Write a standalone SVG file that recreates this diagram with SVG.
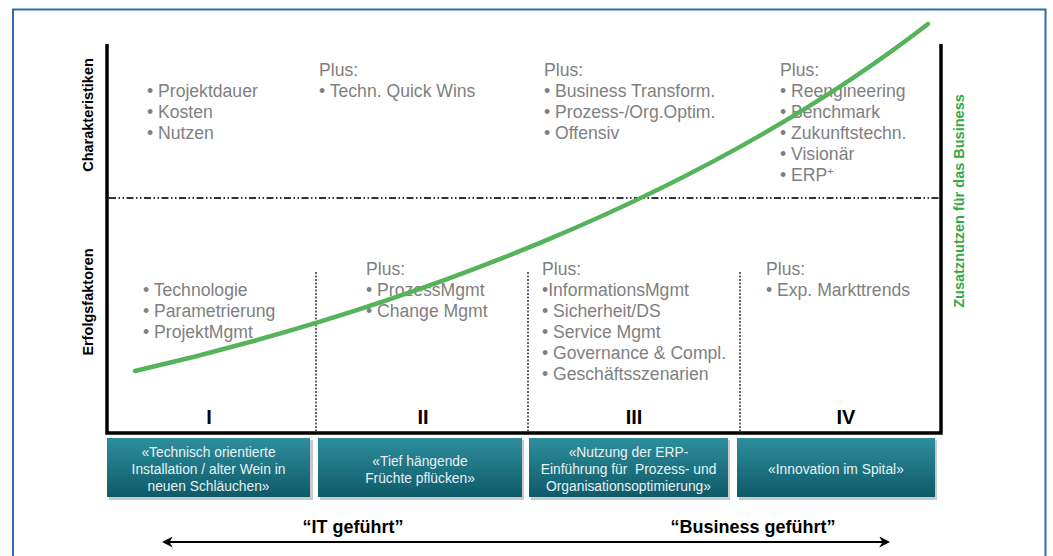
<svg xmlns="http://www.w3.org/2000/svg" width="1053" height="556" viewBox="0 0 1053 556">
  <defs>
    <linearGradient id="boxFill" x1="0" y1="0" x2="0" y2="1">
      <stop offset="0" stop-color="#2e8e9d"/>
      <stop offset="1" stop-color="#0e5a69"/>
    </linearGradient>
    <marker id="arrowHead" viewBox="0 0 10 10" refX="8" refY="5" markerWidth="5" markerHeight="5" orient="auto-start-reverse" markerUnits="strokeWidth">
      <path d="M0,0 L10,5 L0,10 L3,5 Z" fill="#000"/>
    </marker>
  </defs>
  <style>
    .item { font-family: "Liberation Sans", Arial, sans-serif; font-size: 17.6px; fill: #7f7f7f; }
    .axisLabel { font-family: "Liberation Sans", Arial, sans-serif; font-size: 14.5px; font-weight: bold; fill: #000; }
    .benefit { font-family: "Liberation Sans", Arial, sans-serif; font-size: 14.5px; font-weight: bold; fill: #36a848; }
    .phase { font-family: "Liberation Sans", Arial, sans-serif; font-size: 20px; font-weight: bold; fill: #000; text-anchor: middle; }
    .boxText { font-family: "Liberation Sans", Arial, sans-serif; font-size: 13.8px; fill: #e8f2f4; text-anchor: middle; }
    .lead { font-family: "Liberation Sans", Arial, sans-serif; font-size: 18px; font-weight: bold; fill: #000; text-anchor: middle; }
    .axis { stroke: #000; stroke-width: 3.5; fill: none; }
    .divider { stroke: #333; stroke-width: 1.5; stroke-dasharray: 2 1.5; fill: none; }
    .box { fill: url(#boxFill); }
    .shadow { fill: #c9c9c9; }
  </style>

  <rect width="1053" height="556" fill="#fff"/>
  <!-- frame -->
  <path d="M13,560 V9.5 H1045.5 V560" fill="none" stroke="#2f6ea8" stroke-width="2"/>

  <!-- axes and grid -->
  <g id="grid">
    <path class="axis" d="M107,44 V433 H941 V44"/>
    <line x1="109" y1="198" x2="940" y2="198" stroke="#333" stroke-width="2" stroke-dasharray="7 2.5 1.5 2.5 1.5 2.5"/>
    <line class="divider" x1="316" y1="272" x2="316" y2="432"/>
    <line class="divider" x1="528" y1="272" x2="528" y2="432"/>
    <line class="divider" x1="740" y1="272" x2="740" y2="432"/>
  </g>

  <!-- axis titles -->
  <g id="axis-titles">
    <text class="axisLabel" transform="translate(93,115) rotate(-90)" text-anchor="middle">Charakteristiken</text>
    <text class="axisLabel" transform="translate(93,302) rotate(-90)" text-anchor="middle">Erfolgsfaktoren</text>
    <text class="benefit" transform="translate(964,201) rotate(-90)" text-anchor="middle">Zusatznutzen für das Business</text>
  </g>

  <!-- characteristics per phase -->
  <g id="char-1" class="item">
    <text x="147" y="96.5">• Projektdauer</text>
    <text x="147" y="117.5">• Kosten</text>
    <text x="147" y="138.5">• Nutzen</text>
  </g>
  <g id="char-2" class="item">
    <text x="319" y="75.5">Plus:</text>
    <text x="319" y="96.5">• Techn. Quick Wins</text>
  </g>
  <g id="char-3" class="item">
    <text x="544" y="75.5">Plus:</text>
    <text x="544" y="96.5">• Business Transform.</text>
    <text x="544" y="117.5">• Prozess-/Org.Optim.</text>
    <text x="544" y="138.5">• Offensiv</text>
  </g>
  <g id="char-4" class="item">
    <text x="780" y="75.5">Plus:</text>
    <text x="780" y="96.5">• Reengineering</text>
    <text x="780" y="117.5">• Benchmark</text>
    <text x="780" y="138.5">• Zukunftstechn.</text>
    <text x="780" y="159.5">• Visionär</text>
    <text x="780" y="180.5">• ERP<tspan font-size="11" dy="-6">+</tspan></text>
  </g>

  <!-- success factors per phase -->
  <g id="factor-1" class="item">
    <text x="143" y="296">• Technologie</text>
    <text x="143" y="317">• Parametrierung</text>
    <text x="143" y="338">• ProjektMgmt</text>
  </g>
  <g id="factor-2" class="item">
    <text x="366" y="275">Plus:</text>
    <text x="366" y="296">• ProzessMgmt</text>
    <text x="366" y="317">• Change Mgmt</text>
  </g>
  <g id="factor-3" class="item">
    <text x="542" y="275">Plus:</text>
    <text x="542" y="296">•InformationsMgmt</text>
    <text x="542" y="317">• Sicherheit/DS</text>
    <text x="542" y="338">• Service Mgmt</text>
    <text x="542" y="359">• Governance &amp; Compl.</text>
    <text x="542" y="380">• Geschäftsszenarien</text>
  </g>
  <g id="factor-4" class="item">
    <text x="766" y="275">Plus:</text>
    <text x="766" y="296">• Exp. Markttrends</text>
  </g>

  <!-- business value curve -->
  <g id="value-curve">
    <path d="M135,371 C400,310 700,200 928,24" fill="none" stroke="#55b35a" stroke-width="4.5" stroke-linecap="round"/>
  </g>

  <!-- phase numerals -->
  <g id="phase-numbers">
    <text class="phase" x="209" y="424">I</text>
    <text class="phase" x="423" y="424">II</text>
    <text class="phase" x="634" y="424">III</text>
    <text class="phase" x="846" y="424">IV</text>
  </g>

  <!-- phase mottos -->
  <g id="motto-1">
    <rect class="shadow" x="109" y="440" width="204" height="60"/>
    <rect class="box" x="107" y="438" width="203" height="59"/>
    <text class="boxText" x="208.5" y="457">«Technisch orientierte</text>
    <text class="boxText" x="208.5" y="474">Installation / alter Wein in</text>
    <text class="boxText" x="208.5" y="491">neuen Schläuchen»</text>
  </g>
  <g id="motto-2">
    <rect class="shadow" x="320" y="440" width="204" height="60"/>
    <rect class="box" x="318" y="438" width="204" height="59"/>
    <text class="boxText" x="420" y="465.5">«Tief hängende</text>
    <text class="boxText" x="420" y="482.5">Früchte pflücken»</text>
  </g>
  <g id="motto-3">
    <rect class="shadow" x="531" y="440" width="199" height="60"/>
    <rect class="box" x="529" y="438" width="199" height="59"/>
    <text class="boxText" x="628.5" y="457">«Nutzung der ERP-</text>
    <text class="boxText" x="628.5" y="474">Einführung für&#160; Prozess- und</text>
    <text class="boxText" x="628.5" y="491">Organisationsoptimierung»</text>
  </g>
  <g id="motto-4">
    <rect class="shadow" x="739" y="440" width="198" height="60"/>
    <rect class="box" x="737" y="438" width="198" height="59"/>
    <text class="boxText" x="836" y="473.5">«Innovation im Spital»</text>
  </g>

  <!-- leadership axis -->
  <g id="leadership">
    <text class="lead" x="353" y="533">“IT geführt”</text>
    <text class="lead" x="753" y="533">“Business geführt”</text>
  </g>
  <g id="connectors">
    <line x1="164" y1="542" x2="888" y2="542" stroke="#000" stroke-width="2.2" marker-start="url(#arrowHead)" marker-end="url(#arrowHead)"/>
  </g>
</svg>
